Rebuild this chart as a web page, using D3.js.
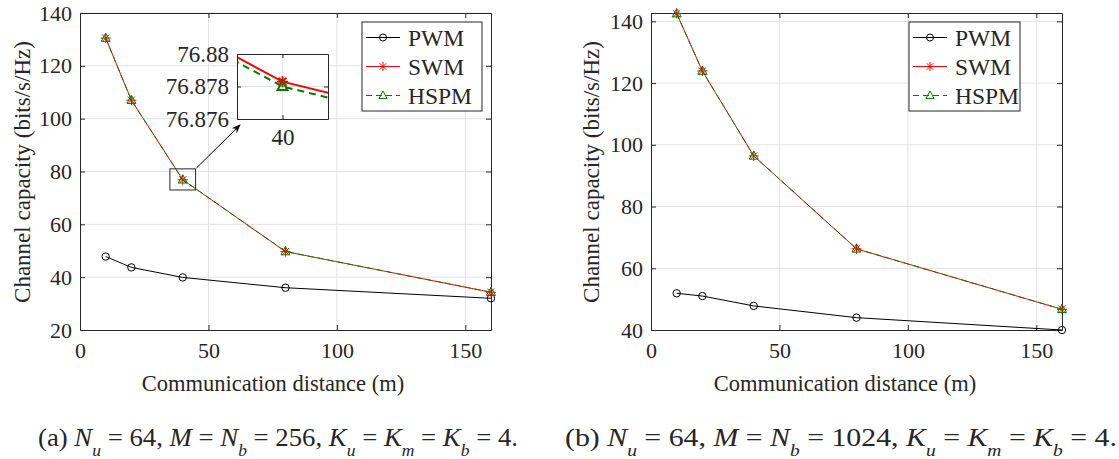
<!DOCTYPE html>
<html>
<head>
<meta charset="utf-8">
<script src="https://cdn.jsdelivr.net/npm/d3@7"></script>
<style>
  body { margin: 0; background: #fff; }
  text { font-family: "Liberation Serif", "Times New Roman", serif; fill: #262626; }
</style>
</head>
<body>
<div id="chart"></div>
<script>
const distances = [10, 20, 40, 80, 160];
const pwmA = [47.8, 43.7, 39.9, 36.0, 32.0];
const swmA = [130.5, 107.0, 76.8783, 49.7, 34.3];
const hspmA = [130.4997, 106.9997, 76.8780, 49.6997, 34.2997];
const pwmB = [51.9, 51.0, 47.8, 44.0, 40.0];
const swmB = [142.5, 123.9, 96.4, 66.3, 46.7];
const hspmB = [142.4997, 123.8997, 96.3997, 66.2997, 46.6997];
const seriesNames = ["PWM", "SWM", "HSPM"];
const xTicks = [0, 50, 100, 150];
const yTicksA = [20, 40, 60, 80, 100, 120, 140];
const yTicksB = [40, 60, 80, 100, 120, 140];
const insetXTicks = [40];
const insetYTicks = [76.876, 76.878, 76.88];
const zoomBox = { x: [35, 45], y: [73, 81] };

const W = 1119, H = 459;
const svg = d3.select("#chart").append("svg")
    .attr("width", W).attr("height", H);

const styles = [
    { color: "#000000", dash: null, mark: "circle" },
    { color: "#ff0000", dash: null, mark: "star" },
    { color: "#008000", dash: "6,4", mark: "tri" }
];

function drawMarker(g, kind, color, cx, cy, s, sw) {
    if (kind === "circle") {
        g.append("circle").attr("cx", cx).attr("cy", cy).attr("r", s)
            .attr("fill", "none").attr("stroke", color).attr("stroke-width", sw);
    } else if (kind === "star") {
        const d = s * 0.72;
        g.append("path")
            .attr("d", `M${cx - s},${cy}H${cx + s}M${cx},${cy - s}V${cy + s}` +
                `M${cx - d},${cy - d}L${cx + d},${cy + d}M${cx - d},${cy + d}L${cx + d},${cy - d}`)
            .attr("stroke", color).attr("stroke-width", sw).attr("fill", "none");
    } else {
        g.append("path")
            .attr("d", `M${cx},${cy - s}L${cx + s * 0.9},${cy + s * 0.65}L${cx - s * 0.9},${cy + s * 0.65}Z`)
            .attr("stroke", color).attr("stroke-width", sw).attr("fill", "none");
    }
}

function panel(o) {
    const g = svg.append("g");
    const x = d3.scaleLinear().domain([0, 160]).range([o.left, o.right]);
    const y = d3.scaleLinear().domain(o.yDomain).range([330, 13]);

    // grid
    g.append("g").selectAll("line").data(xTicks.filter(d => d > 0)).join("line")
        .attr("x1", d => x(d)).attr("x2", d => x(d)).attr("y1", y.range()[0]).attr("y2", y.range()[1])
        .attr("stroke", "#e3e3e3").attr("stroke-width", 1);
    g.append("g").selectAll("line").data(o.yTicks.filter(d => d > o.yDomain[0])).join("line")
        .attr("y1", d => y(d)).attr("y2", d => y(d)).attr("x1", o.left).attr("x2", o.right)
        .attr("stroke", "#e3e3e3").attr("stroke-width", 1);

    // axes
    g.append("g").attr("transform", `translate(0,330)`)
        .call(d3.axisBottom(x).tickValues(xTicks).tickSize(-5).tickPadding(12).tickSizeOuter(0))
        .call(a => a.select(".domain").attr("stroke", "#262626"));
    g.append("g").attr("transform", `translate(0,13)`)
        .call(d3.axisTop(x).tickValues(xTicks).tickSize(-5).tickFormat("").tickSizeOuter(0))
        .call(a => a.select(".domain").attr("stroke", "#262626"));
    g.append("g").attr("transform", `translate(${o.left},0)`)
        .call(d3.axisLeft(y).tickValues(o.yTicks).tickSize(-5).tickPadding(8).tickSizeOuter(0))
        .call(a => a.select(".domain").attr("stroke", "#262626"));
    g.append("g").attr("transform", `translate(${o.right},0)`)
        .call(d3.axisRight(y).tickValues(o.yTicks).tickSize(-5).tickFormat("").tickSizeOuter(0))
        .call(a => a.select(".domain").attr("stroke", "#262626"));
    g.selectAll(".tick line").attr("stroke", "#262626");
    g.selectAll(".tick text").style("font-size", "22px").attr("fill", "#262626");

    // series
    const line = d3.line().x((d, i) => x(distances[i])).y(d => y(d));
    o.series.forEach((vals, k) => {
        const st = styles[k];
        g.append("path").datum(vals).attr("d", line)
            .attr("fill", "none").attr("stroke", st.color).attr("stroke-width", 1)
            .attr("stroke-dasharray", st.dash);
        vals.forEach((v, i) => drawMarker(g, st.mark, st.color, x(distances[i]), y(v), st.mark === "circle" ? 3.7 : 5, 1));
    });

    // legend
    const lg = g.append("g").attr("transform", `translate(${o.legendX},22)`);
    lg.append("rect").attr("width", o.legendW).attr("height", 89)
        .attr("fill", "#fff").attr("stroke", "#262626").attr("stroke-width", 1);
    seriesNames.forEach((name, k) => {
        const st = styles[k];
        const ly = 15.5 + k * 29;
        lg.append("line").attr("x1", 4).attr("x2", 38).attr("y1", ly).attr("y2", ly)
            .attr("stroke", st.color).attr("stroke-width", 1).attr("stroke-dasharray", st.dash);
        drawMarker(lg, st.mark, st.color, 21, ly, st.mark === "circle" ? 3.5 : 4.5, 1);
        lg.append("text").attr("x", 46).attr("y", ly).attr("dy", "0.35em")
            .style("font-size", "23.5px").text(name);
    });

    // axis titles
    g.append("text").attr("x", o.xLabelX).attr("y", 383).attr("dy", "0.35em")
        .attr("text-anchor", "middle").style("font-size", "22.5px").text("Communication distance (m)");
    g.append("text").attr("transform", `translate(${o.yLabelX},172) rotate(-90)`).attr("dy", "0.35em")
        .attr("text-anchor", "middle").style("font-size", "23px").text("Channel capacity (bits/s/Hz)");

    // caption
    const cap = g.append("text").attr("x", o.capX).attr("y", 446).style("font-size", "26px")
        .attr("textLength", o.capW).attr("lengthAdjust", "spacingAndGlyphs");
    o.caption.forEach(p => {
        const t = cap.append("tspan").text(p.t);
        if (p.i) t.style("font-style", "italic");
        if (p.sub) t.attr("baseline-shift", "sub").style("font-size", "17px");
    });

    if (o.inset) drawInset(g, x, y);
}

function drawInset(g, x, y) {
    // zoom rectangle in main axes
    g.append("rect")
        .attr("x", x(zoomBox.x[0])).attr("y", y(zoomBox.y[1]))
        .attr("width", x(zoomBox.x[1]) - x(zoomBox.x[0]))
        .attr("height", y(zoomBox.y[0]) - y(zoomBox.y[1]))
        .attr("fill", "none").attr("stroke", "#262626").attr("stroke-width", 1);

    const ix = d3.scaleLinear().domain([39.999, 40.001]).range([237, 328]);
    const iy = d3.scaleLinear().domain([76.876, 76.88]).range([119, 54]);

    // arrow
    svg.append("defs").append("marker").attr("id", "ah")
        .attr("viewBox", "0 0 10 10").attr("refX", 9).attr("refY", 5)
        .attr("markerWidth", 9).attr("markerHeight", 9).attr("orient", "auto")
        .append("path").attr("d", "M0,1L10,5L0,9L3,5Z").attr("fill", "#000");
    g.append("line")
        .attr("x1", x(zoomBox.x[1]) + 1).attr("y1", y(zoomBox.y[1]) - 1)
        .attr("x2", ix.range()[0] + 3).attr("y2", iy.range()[0] + 6)
        .attr("stroke", "#000").attr("stroke-width", 1).attr("marker-end", "url(#ah)");

    const ig = g.append("g");
    ig.append("rect").attr("x", 237).attr("y", 54).attr("width", 91).attr("height", 65).attr("fill", "#fff");
    ig.append("clipPath").attr("id", "ic").append("rect")
        .attr("x", 237).attr("y", 54).attr("width", 91).attr("height", 65);
    ig.selectAll(".gx").data(insetXTicks).join("line")
        .attr("x1", d => ix(d)).attr("x2", d => ix(d)).attr("y1", 54).attr("y2", 119)
        .attr("stroke", "#e3e3e3");
    ig.selectAll(".gy").data(insetYTicks.slice(1, 2)).join("line")
        .attr("y1", d => iy(d)).attr("y2", d => iy(d)).attr("x1", 237).attr("x2", 328)
        .attr("stroke", "#e3e3e3");

    const inner = ig.append("g").attr("clip-path", "url(#ic)");
    const ln = d3.line().x((d, i) => ix(distances[i])).y(d => iy(d));
    [swmA, hspmA].forEach((vals, j) => {
        const st = styles[j + 1];
        inner.append("path").datum(vals).attr("d", ln).attr("fill", "none")
            .attr("stroke", st.color).attr("stroke-width", 2)
            .attr("stroke-dasharray", st.dash ? "7,5" : null);
    });
    [swmA, hspmA].forEach((vals, j) => {
        const st = styles[j + 1];
        drawMarker(inner, st.mark, st.color, ix(distances[2]), iy(vals[2]), 5.5, 2);
    });

    ig.append("g").attr("transform", "translate(0,119)")
        .call(d3.axisBottom(ix).tickValues(insetXTicks).tickFormat(d3.format("d")).tickSize(-4).tickPadding(10).tickSizeOuter(0));
    ig.append("g").attr("transform", "translate(0,54)")
        .call(d3.axisTop(ix).tickValues(insetXTicks).tickFormat("").tickSize(-4).tickSizeOuter(0));
    ig.append("g").attr("transform", "translate(237,0)")
        .call(d3.axisLeft(iy).tickValues(insetYTicks).tickFormat(d => String(+d.toFixed(3))).tickSize(-4).tickPadding(8).tickSizeOuter(0));
    ig.append("g").attr("transform", "translate(328,0)")
        .call(d3.axisRight(iy).tickValues(insetYTicks).tickFormat("").tickSize(-4).tickSizeOuter(0));
    ig.selectAll(".domain, .tick line").attr("stroke", "#262626");
    ig.selectAll(".tick text").style("font-size", "23px").attr("fill", "#262626");
}

panel({
    left: 80, right: 491, yDomain: [20, 140], yTicks: yTicksA,
    series: [pwmA, swmA, hspmA], legendX: 362, legendW: 120,
    xLabelX: 273, yLabelX: 22, capX: 38, capW: 480, inset: true,
    caption: [
        { t: "(a)  " }, { t: "N", i: true }, { t: "u", i: true, sub: true }, { t: " = 64, " },
        { t: "M", i: true }, { t: " = " }, { t: "N", i: true }, { t: "b", i: true, sub: true }, { t: " = 256, " },
        { t: "K", i: true }, { t: "u", i: true, sub: true }, { t: " = " }, { t: "K", i: true }, { t: "m", i: true, sub: true },
        { t: " = " }, { t: "K", i: true }, { t: "b", i: true, sub: true }, { t: " = 4." }
    ]
});
panel({
    left: 651, right: 1062, yDomain: [40, 142.7], yTicks: yTicksB,
    series: [pwmB, swmB, hspmB], legendX: 909, legendW: 111,
    xLabelX: 845, yLabelX: 591, capX: 565, capW: 552, inset: false,
    caption: [
        { t: "(b)  " }, { t: "N", i: true }, { t: "u", i: true, sub: true }, { t: " = 64, " },
        { t: "M", i: true }, { t: " = " }, { t: "N", i: true }, { t: "b", i: true, sub: true }, { t: " = 1024, " },
        { t: "K", i: true }, { t: "u", i: true, sub: true }, { t: " = " }, { t: "K", i: true }, { t: "m", i: true, sub: true },
        { t: " = " }, { t: "K", i: true }, { t: "b", i: true, sub: true }, { t: " = 4." }
    ]
});
</script>
</body>
</html>
